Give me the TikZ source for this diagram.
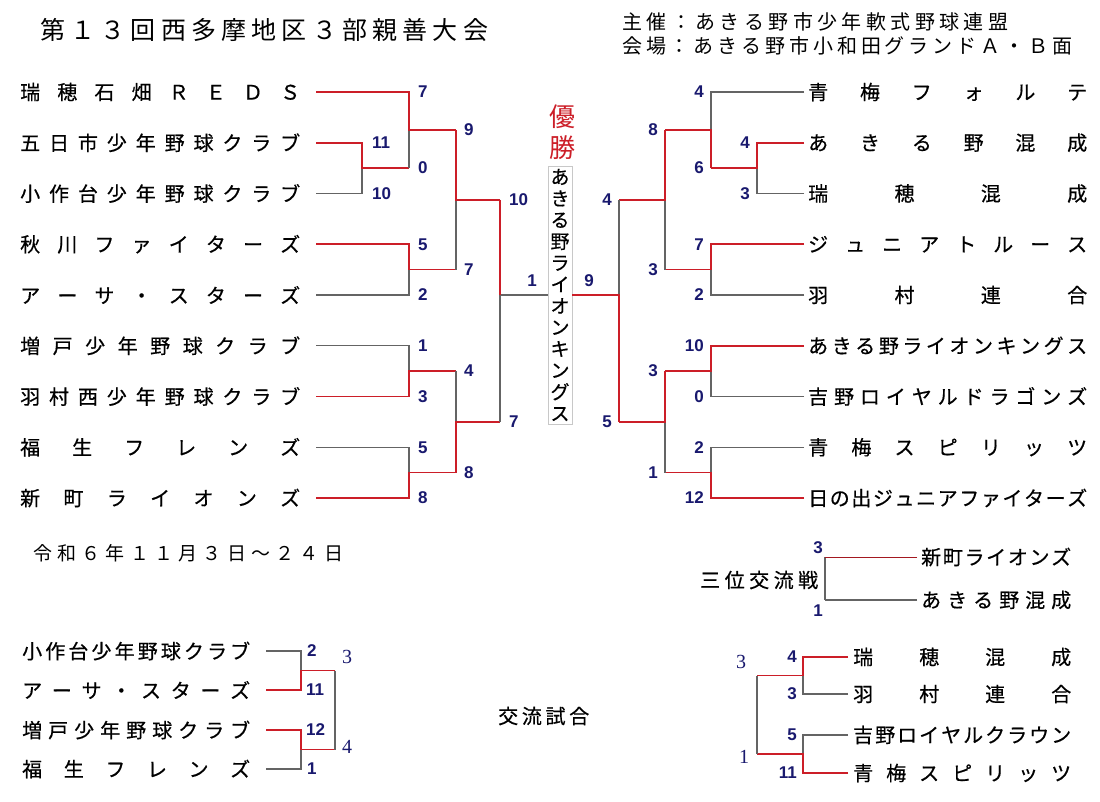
\documentclass[tikz,border=0pt]{standalone}
\usepackage{fontspec}
\setmainfont{Noto Sans CJK JP}[FakeBold=0.5]
\newfontfamily\titlefont{Noto Sans CJK JP}
\newfontfamily\numfont{Liberation Sans}
\newfontfamily\snumfont{Liberation Serif}
\usetikzlibrary{calc}
\definecolor{winred}{RGB}{204,30,40}
\definecolor{losegray}{RGB}{100,100,100}
\definecolor{navy}{RGB}{25,25,110}
\definecolor{boxgray}{RGB}{200,200,200}
\def\sprEnd{}
\def\spr#1{\sprA#1\sprEnd}
\def\sprA#1#2{#1\ifx#2\sprEnd\else\hfill\expandafter\sprA\expandafter#2\fi}
\newcommand\match[8]{%
  \pgfmathsetmacro\ymid{(#3+#4)/2}%
  \coordinate (#1-t) at (#2,#3);
  \coordinate (#1-b) at (#2,#4);
  \coordinate (#1-m) at (#2,\ymid);
  \coordinate (#1-o) at (#8,\ymid);
  \if#7t%
    \draw[lose] (#6) -- (#1-b) -- (#1-m);
    \draw[win] (#5) -- (#1-t) -- (#1-m) -- (#1-o);
  \else
    \draw[lose] (#5) -- (#1-t) -- (#1-m);
    \draw[win] (#6) -- (#1-b) -- (#1-m) -- (#1-o);
  \fi
}
\begin{document}
\begin{tikzpicture}[x=1pt,y=-1pt,
  win/.style={draw=winred,line width=1.7pt},
  lose/.style={draw=losegray,line width=1.2pt},
  thinwin/.style={draw=winred!80!black,line width=1pt},
  team/.style={inner sep=0pt,anchor=west,font=\fontsize{20}{24}\selectfont},
  sc/.style={inner sep=0pt,text=navy,font=\numfont\bfseries\fontsize{17}{17}\selectfont},
  ssc/.style={inner sep=0pt,text=navy,font=\snumfont\fontsize{20}{20}\selectfont},
  plain/.style={inner sep=0pt,anchor=west}]
\useasboundingbox (0,0) rectangle (1100,801);
\fill[white] (0,0) rectangle (1100,801);

% titles
\node[plain,font=\titlefont\fontsize{25}{28}\selectfont] (title) at (40,30) {\hbox to 448pt{\spr{第１３回西多摩地区３部親善大会}}};
\node[plain,font=\titlefont\fontsize{20}{24}\selectfont] (host) at (622,22) {\hbox to 386pt{\spr{主催：あきる野市少年軟式野球連盟}}};
\node[plain,font=\titlefont\fontsize{20}{24}\selectfont] (venue) at (622,46) {\hbox to 450pt{\spr{会場：あきる野市小和田グランドＡ・Ｂ面}}};

% left teams
\node[team] (L1) at (20,92) {\hbox to 280pt{\spr{瑞穂石畑ＲＥＤＳ}}};
\node[team] (L2) at (20,142.75) {\hbox to 280pt{\spr{五日市少年野球クラブ}}};
\node[team] (L3) at (20,193.5) {\hbox to 280pt{\spr{小作台少年野球クラブ}}};
\node[team] (L4) at (20,244.25) {\hbox to 280pt{\spr{秋川ファイターズ}}};
\node[team] (L5) at (20,295) {\hbox to 280pt{\spr{アーサ・スターズ}}};
\node[team] (L6) at (20,345.75) {\hbox to 280pt{\spr{増戸少年野球クラブ}}};
\node[team] (L7) at (20,396.5) {\hbox to 280pt{\spr{羽村西少年野球クラブ}}};
\node[team] (L8) at (20,447.25) {\hbox to 280pt{\spr{福生フレンズ}}};
\node[team] (L9) at (20,498) {\hbox to 280pt{\spr{新町ライオンズ}}};
\foreach \i in {1,...,9} {\coordinate (L\i s) at ([xshift=16pt]L\i.east);}

% right teams
\node[team] (R1) at (808,92) {\hbox to 279pt{\spr{青梅フォルテ}}};
\node[team] (R2) at (808,142.75) {\hbox to 279pt{\spr{あきる野混成}}};
\node[team] (R3) at (808,193.5) {\hbox to 279pt{\spr{瑞穂混成}}};
\node[team] (R4) at (808,244.25) {\hbox to 279pt{\spr{ジュニアトルース}}};
\node[team] (R5) at (808,295) {\hbox to 279pt{\spr{羽村連合}}};
\node[team] (R6) at (808,345.75) {\hbox to 279pt{\spr{あきる野ライオンキングス}}};
\node[team] (R7) at (808,396.5) {\hbox to 279pt{\spr{吉野ロイヤルドラゴンズ}}};
\node[team] (R8) at (808,447.25) {\hbox to 279pt{\spr{青梅スピリッツ}}};
\node[team] (R9) at (808,498) {\hbox to 279pt{\spr{日の出ジュニアファイターズ}}};
\foreach \i in {1,...,9} {\coordinate (R\i s) at ([xshift=-4pt]R\i.west);}

% champion
\node[inner sep=0pt,text=winred,font=\titlefont\fontsize{26}{26}\selectfont] (yu) at (562,117) {優};
\node[inner sep=0pt,text=winred,font=\titlefont\fontsize{26}{26}\selectfont] (sho) at (562,148) {勝};
\node[draw=boxgray,line width=0.8pt,fill=white,inner xsep=2pt,inner ysep=0pt,minimum width=24pt,minimum height=258pt,align=center,font=\fontsize{19}{21.5}\selectfont] (box) at (560,295) {あ\\き\\る\\野\\ラ\\イ\\オ\\ン\\キ\\ン\\グ\\ス};

% left bracket
\match{A}{362}{142.75}{193.5}{L2s}{L3s}{t}{409}
\match{B}{409}{92}{168.125}{L1s}{A-o}{t}{456}
\match{C}{409}{244.25}{295}{L4s}{L5s}{t}{456}
\match{D}{456}{130.0625}{269.625}{B-o}{C-o}{t}{500}
\match{E}{409}{345.75}{396.5}{L6s}{L7s}{b}{456}
\match{F}{409}{447.25}{498}{L8s}{L9s}{b}{456}
\match{G}{456}{371.125}{472.625}{E-o}{F-o}{b}{500}
\coordinate (fL) at (500,295);
\draw[lose] (fL) -- (G-o);
\draw[lose] (fL) -- (box.west);
\draw[win] (D-o) -- (fL);

% right bracket
\match{a}{757}{142.75}{193.5}{R2s}{R3s}{t}{711}
\match{b}{711}{92}{168.125}{R1s}{a-o}{b}{665}
\match{c}{711}{244.25}{295}{R4s}{R5s}{t}{665}
\match{d}{665}{130.0625}{269.625}{b-o}{c-o}{t}{619}
\match{e}{711}{345.75}{396.5}{R6s}{R7s}{t}{665}
\match{f}{711}{447.25}{498}{R8s}{R9s}{b}{665}
\match{g}{665}{371.125}{472.625}{e-o}{f-o}{t}{619}
\coordinate (fR) at (619,295);
\draw[lose] (d-o) -- (fR);
\draw[win] (g-o) -- (fR) -- (box.east);

% left scores
\node[sc,anchor=west] (sA1) at (372,142.75) {11};
\node[sc,anchor=west] (sA2) at (372,193.5) {10};
\node[sc,anchor=west] (sB1) at (418,92) {7};
\node[sc,anchor=west] (sB2) at (418,168.1) {0};
\node[sc,anchor=west] (sC1) at (418,244.25) {5};
\node[sc,anchor=west] (sC2) at (418,295) {2};
\node[sc,anchor=west] (sD1) at (464,130) {9};
\node[sc,anchor=west] (sD2) at (464,269.6) {7};
\node[sc,anchor=west] (sE1) at (418,345.75) {1};
\node[sc,anchor=west] (sE2) at (418,396.5) {3};
\node[sc,anchor=west] (sF1) at (418,447.25) {5};
\node[sc,anchor=west] (sF2) at (418,498) {8};
\node[sc,anchor=west] (sG1) at (464,371.1) {4};
\node[sc,anchor=west] (sG2) at (464,472.6) {8};
\node[sc,anchor=west] (sH1) at (509,200) {10};
\node[sc,anchor=west] (sH2) at (509,422) {7};
\node[sc] (sFL) at (532,281) {1};
% right scores
\node[sc,anchor=east] (sa1) at (750,142.75) {4};
\node[sc,anchor=east] (sa2) at (750,193.5) {3};
\node[sc,anchor=east] (sb1) at (704,92) {4};
\node[sc,anchor=east] (sb2) at (704,168.1) {6};
\node[sc,anchor=east] (sc1) at (704,244.25) {7};
\node[sc,anchor=east] (sc2) at (704,295) {2};
\node[sc,anchor=east] (sd1) at (658,130) {8};
\node[sc,anchor=east] (sd2) at (658,269.6) {3};
\node[sc,anchor=east] (se1) at (704,345.75) {10};
\node[sc,anchor=east] (se2) at (704,396.5) {0};
\node[sc,anchor=east] (sf1) at (704,447.25) {2};
\node[sc,anchor=east] (sf2) at (704,498) {12};
\node[sc,anchor=east] (sg1) at (658,371.1) {3};
\node[sc,anchor=east] (sg2) at (658,472.6) {1};
\node[sc,anchor=east] (sh1) at (612,200) {4};
\node[sc,anchor=east] (sh2) at (612,422) {5};
\node[sc] (sFR) at (589,281) {9};

% date
\node[plain,font=\titlefont\fontsize{19}{22}\selectfont] (date) at (33,553) {\hbox to 310pt{\spr{令和６年１１月３日～２４日}}};

% third place
\node[plain,font=\fontsize{20}{24}\selectfont] (third) at (700,580) {\hbox to 118pt{\spr{三位交流戦}}};
\node[team] (T1) at (921,557) {\hbox to 150pt{\spr{新町ライオンズ}}};
\node[team] (T2) at (921,600) {\hbox to 150pt{\spr{あきる野混成}}};
\coordinate (tp-t) at (825,557);
\coordinate (tp-b) at (825,600);
\draw[lose] (tp-t) -- (tp-b);
\draw[lose] ([xshift=-4pt]T2.west) -- (tp-b);
\draw[thinwin] ([xshift=-4pt]T1.west) -- (tp-t);
\node[sc] (st1) at (818,548) {3};
\node[sc] (st2) at (818,611) {1};

% exchange games (left)
\node[plain,font=\fontsize{20}{24}\selectfont] (koryu) at (498,716) {\hbox to 91pt{\spr{交流試合}}};
\node[team] (B1) at (22,651) {\hbox to 228pt{\spr{小作台少年野球クラブ}}};
\node[team] (B2) at (22,690) {\hbox to 228pt{\spr{アーサ・スターズ}}};
\node[team] (B3) at (22,730) {\hbox to 228pt{\spr{増戸少年野球クラブ}}};
\node[team] (B4) at (22,769) {\hbox to 228pt{\spr{福生フレンズ}}};
\foreach \i in {1,...,4} {\coordinate (B\i s) at ([xshift=16pt]B\i.east);}
\match{p}{301}{651}{690}{B1s}{B2s}{b}{335}
\match{q}{301}{730}{769}{B3s}{B4s}{t}{335}
\draw[lose] (p-o) -- (q-o);
\node[sc,anchor=west] (sp1) at (307,651) {2};
\node[sc,anchor=west] (sp2) at (306,690) {11};
\node[sc,anchor=west] (sq1) at (306,730) {12};
\node[sc,anchor=west] (sq2) at (307,769) {1};
\node[ssc] (spq1) at (347,657) {3};
\node[ssc] (spq2) at (347,747) {4};

% exchange games (right)
\node[team] (C1) at (853,657) {\hbox to 218pt{\spr{瑞穂混成}}};
\node[team] (C2) at (853,694) {\hbox to 218pt{\spr{羽村連合}}};
\node[team] (C3) at (853,735) {\hbox to 218pt{\spr{吉野ロイヤルクラウン}}};
\node[team] (C4) at (853,773) {\hbox to 218pt{\spr{青梅スピリッツ}}};
\foreach \i in {1,...,4} {\coordinate (C\i s) at ([xshift=-5pt]C\i.west);}
\match{u}{803}{657}{694}{C1s}{C2s}{t}{757}
\match{w}{803}{735}{773}{C3s}{C4s}{b}{757}
\draw[lose] (u-o) -- (w-o);
\node[sc,anchor=east] (su1) at (797,657) {4};
\node[sc,anchor=east] (su2) at (797,694) {3};
\node[sc,anchor=east] (sw1) at (797,735) {5};
\node[sc,anchor=east] (sw2) at (797,773) {11};
\node[ssc] (suw1) at (741,662) {3};
\node[ssc] (suw2) at (744,757) {1};
\end{tikzpicture}
\end{document}
